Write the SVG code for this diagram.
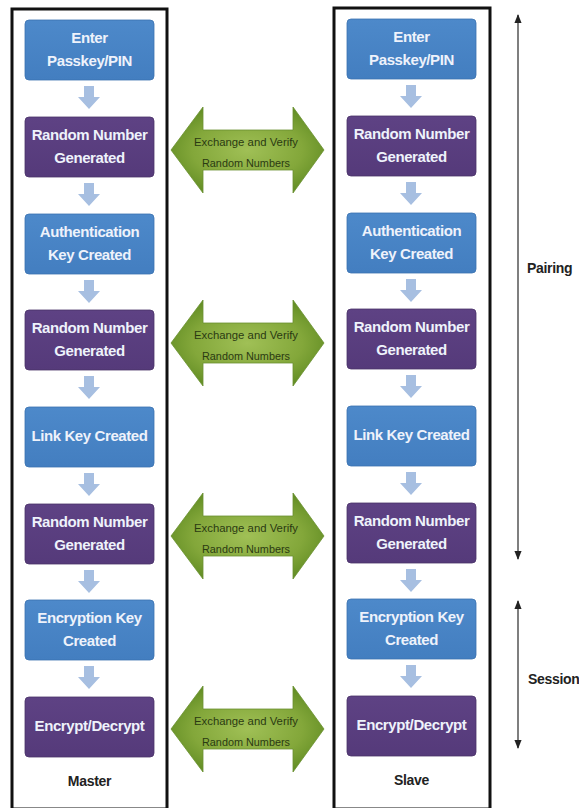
<svg xmlns="http://www.w3.org/2000/svg" width="579" height="808" viewBox="0 0 579 808">
  <defs>
    <radialGradient id="greenFill" cx="0.5" cy="0.5" r="0.6">
      <stop offset="0" stop-color="#a0c056"/>
      <stop offset="0.6" stop-color="#83a73a"/>
      <stop offset="1" stop-color="#5c8820"/>
    </radialGradient>
    <linearGradient id="blueFill" x1="0" y1="0" x2="0" y2="1">
      <stop offset="0" stop-color="#4d89ca"/>
      <stop offset="1" stop-color="#437ec0"/>
    </linearGradient>
    <linearGradient id="purpleFill" x1="0" y1="0" x2="0" y2="1">
      <stop offset="0" stop-color="#5e4284"/>
      <stop offset="1" stop-color="#553a7a"/>
    </linearGradient>
    <!-- small downward step arrow -->
    <polygon id="step" points="-5,0 5,0 5,11 11,11 0,23 -11,11 -5,11" fill="#a7bfe1"/>
    <!-- green double-headed exchange arrow, centred on 0,0 -->
    <polygon id="xchg" points="-76,0 -44,-43 -44,-20 46,-20 46,-43 77,0 46,43 46,20 -44,20 -44,43" fill="url(#greenFill)" stroke="#6a9030" stroke-width="0.8"/>
    <marker id="tip" viewBox="0 0 10 10" refX="9" refY="5" markerWidth="6" markerHeight="6" orient="auto-start-reverse">
      <path d="M0,1 L10,5 L0,9 Z" fill="#222"/>
    </marker>
  </defs>
  <style>
    .frame { fill: #ffffff; stroke: #111; stroke-width: 3; }
    .blue { fill: url(#blueFill); stroke: #3b72b0; stroke-width: 0.8; }
    .purple { fill: url(#purpleFill); stroke: #4a3268; stroke-width: 0.8; }
    .btxt { font-family: "Liberation Sans", Arial, sans-serif; font-weight: bold; font-size: 15px; letter-spacing: -0.4px; fill: #eef2fb; text-anchor: middle; }
    .gtxt { font-family: "Liberation Sans", Arial, sans-serif; font-size: 11px; fill: #2b3a12; text-anchor: middle; }
    .lbl { font-family: "Liberation Sans", Arial, sans-serif; font-weight: bold; font-size: 14px; letter-spacing: -0.3px; fill: #222; }
    .span { stroke: #555; stroke-width: 1.5; fill: none; marker-start: url(#tip); marker-end: url(#tip); }
  </style>

  <rect x="0" y="0" width="579" height="808" fill="#ffffff"/>

  <!-- column frames -->
  <rect class="frame" x="12" y="9" width="155" height="800"/>
  <rect class="frame" x="334" y="8" width="156" height="801"/>

  <!-- Master column -->
  <g id="m1"><rect class="blue" x="25" y="20" width="129" height="60" rx="4"/>
    <text class="btxt" x="89.5" y="43">Enter</text><text class="btxt" x="89.5" y="66">Passkey/PIN</text></g>
  <g id="m2"><rect class="purple" x="25" y="117" width="129" height="60" rx="4"/>
    <text class="btxt" x="89.5" y="140">Random Number</text><text class="btxt" x="89.5" y="163">Generated</text></g>
  <g id="m3"><rect class="blue" x="25" y="214" width="129" height="60" rx="4"/>
    <text class="btxt" x="89.5" y="237">Authentication</text><text class="btxt" x="89.5" y="260">Key Created</text></g>
  <g id="m4"><rect class="purple" x="25" y="310" width="129" height="60" rx="4"/>
    <text class="btxt" x="89.5" y="333">Random Number</text><text class="btxt" x="89.5" y="356">Generated</text></g>
  <g id="m5"><rect class="blue" x="25" y="407" width="129" height="60" rx="4"/>
    <text class="btxt" x="89.5" y="441">Link Key Created</text></g>
  <g id="m6"><rect class="purple" x="25" y="504" width="129" height="60" rx="4"/>
    <text class="btxt" x="89.5" y="527">Random Number</text><text class="btxt" x="89.5" y="550">Generated</text></g>
  <g id="m7"><rect class="blue" x="25" y="600" width="129" height="60" rx="4"/>
    <text class="btxt" x="89.5" y="623">Encryption Key</text><text class="btxt" x="89.5" y="646">Created</text></g>
  <g id="m8"><rect class="purple" x="25" y="697" width="129" height="60" rx="4"/>
    <text class="btxt" x="89.5" y="731">Encrypt/Decrypt</text></g>
  <text class="lbl" x="89.5" y="786" text-anchor="middle">Master</text>

  <!-- Slave column -->
  <g id="s1"><rect class="blue" x="347" y="19" width="129" height="60" rx="4"/>
    <text class="btxt" x="411.5" y="42">Enter</text><text class="btxt" x="411.5" y="65">Passkey/PIN</text></g>
  <g id="s2"><rect class="purple" x="347" y="116" width="129" height="60" rx="4"/>
    <text class="btxt" x="411.5" y="139">Random Number</text><text class="btxt" x="411.5" y="162">Generated</text></g>
  <g id="s3"><rect class="blue" x="347" y="213" width="129" height="60" rx="4"/>
    <text class="btxt" x="411.5" y="236">Authentication</text><text class="btxt" x="411.5" y="259">Key Created</text></g>
  <g id="s4"><rect class="purple" x="347" y="309" width="129" height="60" rx="4"/>
    <text class="btxt" x="411.5" y="332">Random Number</text><text class="btxt" x="411.5" y="355">Generated</text></g>
  <g id="s5"><rect class="blue" x="347" y="406" width="129" height="60" rx="4"/>
    <text class="btxt" x="411.5" y="440">Link Key Created</text></g>
  <g id="s6"><rect class="purple" x="347" y="503" width="129" height="60" rx="4"/>
    <text class="btxt" x="411.5" y="526">Random Number</text><text class="btxt" x="411.5" y="549">Generated</text></g>
  <g id="s7"><rect class="blue" x="347" y="599" width="129" height="60" rx="4"/>
    <text class="btxt" x="411.5" y="622">Encryption Key</text><text class="btxt" x="411.5" y="645">Created</text></g>
  <g id="s8"><rect class="purple" x="347" y="696" width="129" height="60" rx="4"/>
    <text class="btxt" x="411.5" y="730">Encrypt/Decrypt</text></g>
  <text class="lbl" x="411.5" y="785" text-anchor="middle">Slave</text>

  <!-- exchange arrows between columns -->
  <g id="x1"><use href="#xchg" x="247" y="150"/>
    <text class="gtxt" x="246" y="146" textLength="104" lengthAdjust="spacingAndGlyphs">Exchange and Verify</text>
    <text class="gtxt" x="246" y="167" textLength="88" lengthAdjust="spacingAndGlyphs">Random Numbers</text></g>
  <g id="x2"><use href="#xchg" x="247" y="343"/>
    <text class="gtxt" x="246" y="339" textLength="104" lengthAdjust="spacingAndGlyphs">Exchange and Verify</text>
    <text class="gtxt" x="246" y="360" textLength="88" lengthAdjust="spacingAndGlyphs">Random Numbers</text></g>
  <g id="x3"><use href="#xchg" x="247" y="536"/>
    <text class="gtxt" x="246" y="532" textLength="104" lengthAdjust="spacingAndGlyphs">Exchange and Verify</text>
    <text class="gtxt" x="246" y="553" textLength="88" lengthAdjust="spacingAndGlyphs">Random Numbers</text></g>
  <g id="x4"><use href="#xchg" x="247" y="729"/>
    <text class="gtxt" x="246" y="725" textLength="104" lengthAdjust="spacingAndGlyphs">Exchange and Verify</text>
    <text class="gtxt" x="246" y="746" textLength="88" lengthAdjust="spacingAndGlyphs">Random Numbers</text></g>

  <!-- step arrows inside each column -->
  <g id="connectors">
    <use href="#step" x="89" y="86"/>
    <use href="#step" x="89" y="183"/>
    <use href="#step" x="89" y="280"/>
    <use href="#step" x="89" y="376"/>
    <use href="#step" x="89" y="473"/>
    <use href="#step" x="89" y="570"/>
    <use href="#step" x="89" y="666"/>
    <use href="#step" x="411" y="85"/>
    <use href="#step" x="411" y="182"/>
    <use href="#step" x="411" y="279"/>
    <use href="#step" x="411" y="375"/>
    <use href="#step" x="411" y="472"/>
    <use href="#step" x="411" y="569"/>
    <use href="#step" x="411" y="665"/>
  </g>

  <!-- phase spans -->
  <g id="pairing">
    <line class="span" x1="518" y1="15" x2="518" y2="559"/>
    <text class="lbl" x="527" y="273">Pairing</text>
  </g>
  <g id="session">
    <line class="span" x1="518" y1="601" x2="518" y2="748"/>
    <text class="lbl" x="528" y="684">Session</text>
  </g>
</svg>
